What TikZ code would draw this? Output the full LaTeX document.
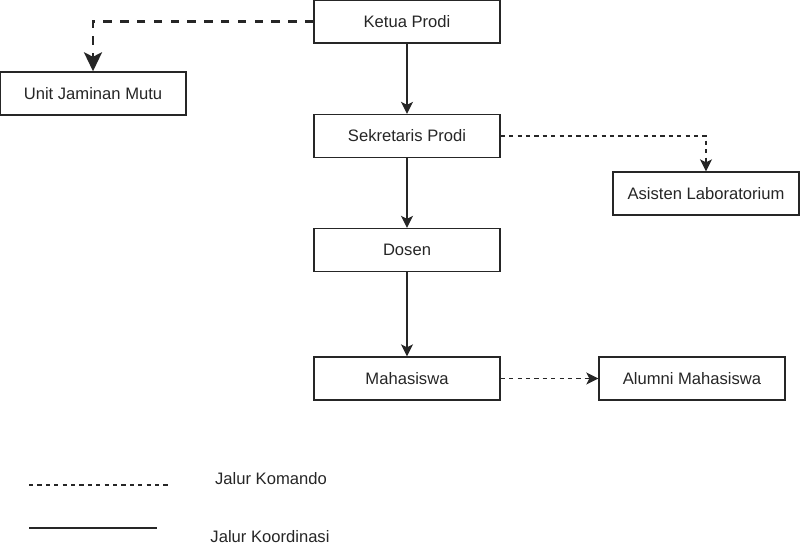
\documentclass[tikz,border=0pt]{standalone}
\usepackage{fontspec}
\setmainfont{Liberation Sans}
\usetikzlibrary{arrows.meta}
\begin{document}
\begin{tikzpicture}[x=1pt,y=-1pt,
  box/.style={draw=black!85,line width=1.4pt,minimum width=186pt,minimum height=43pt,inner sep=0pt,font=\fontsize{16.6}{18}\selectfont,text=black!85},
  lbl/.style={inner sep=0pt,font=\fontsize{16.6}{18}\selectfont,text=black!85},
  solidarr/.style={draw=black!85,line width=1.4pt,-{Stealth[length=12pt,width=12pt,inset=3pt]}},
  thinkom/.style={draw=black!85,line width=1.4pt,dash pattern=on 4.2pt off 4.2pt,-{Stealth[length=12pt,width=12pt,inset=3pt]}},
  thickkom/.style={draw=black!85,line width=2.8pt,dash pattern=on 8.4pt off 8.4pt,-{Stealth[length=19pt,width=18pt,inset=4.5pt]}},
]
\useasboundingbox (0,0) rectangle (800,558);
\node[box] (ketua) at (407,21.5) {Ketua Prodi};
\node[box] (ujm) at (93,93.5) {Unit Jaminan Mutu};
\node[box] (sek) at (407,136) {Sekretaris Prodi};
\node[box] (asl) at (706,193.5) {Asisten Laboratorium};
\node[box] (dosen) at (407,250) {Dosen};
\node[box] (mhs) at (407,378.5) {Mahasiswa};
\node[box] (alumni) at (692,378.5) {Alumni Mahasiswa};

\draw[thickkom] (ketua.west) -| (ujm.north);
\draw[solidarr] (ketua) -- (sek);
\draw[thinkom] (sek.east) -| (asl.north);
\draw[solidarr] (sek) -- (dosen);
\draw[solidarr] (dosen) -- (mhs);
\draw[thinkom] (mhs) -- (alumni);

\coordinate (k1) at (29,485);
\coordinate (k2) at (171,485);
\coordinate (c1) at (29,528);
\coordinate (c2) at (157,528);
\draw[draw=black!85,line width=1.4pt,dash pattern=on 4.2pt off 4.2pt] (k1) -- (k2);
\draw[draw=black!85,line width=1.4pt] (c1) -- (c2);
\node[lbl] (lk) at (271,479) {Jalur Komando};
\node[lbl] (lc) at (270,537) {Jalur Koordinasi};
\end{tikzpicture}
\end{document}
